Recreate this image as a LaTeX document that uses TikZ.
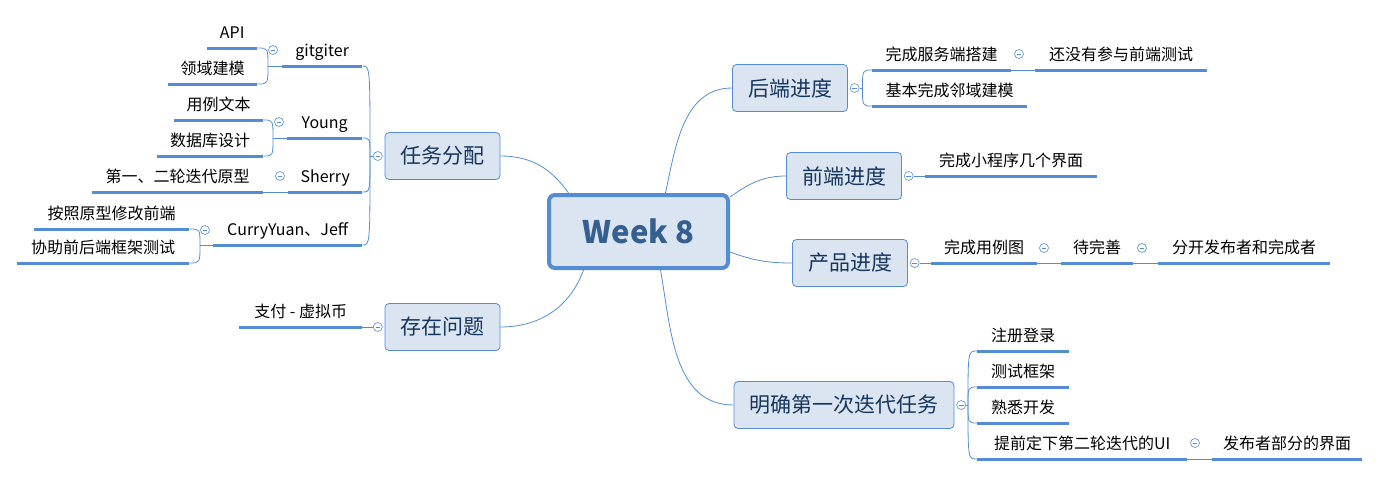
\documentclass[tikz,border=0pt]{standalone}
\usepackage{fontspec}
\setmainfont{Noto Sans CJK SC}
\usepackage{tikz}
\usetikzlibrary{positioning, backgrounds}

\definecolor{lineblue}{RGB}{84,141,212}
\definecolor{boxfill}{RGB}{219,229,241}
\definecolor{topictext}{RGB}{23,54,93}
\definecolor{weektext}{RGB}{54,95,145}

\newcommand{\leaffont}{\fontsize{16}{19}\selectfont}
\newcommand{\topicfont}{\fontsize{21}{25}\selectfont}
\newcommand{\weekfont}{\fontsize{31}{36}\selectfont\bfseries}

\tikzset{%
  % big box in the middle
  central/.style={rectangle, rounded corners=6pt, draw=lineblue, line width=4pt, fill=boxfill,
    text=weektext, font=\weekfont, minimum width=179pt, minimum height=73pt},
  % main topics
  topic/.style={rectangle, rounded corners=4pt, draw=lineblue, line width=0.8pt, fill=boxfill,
    text=topictext, font=\topicfont, inner xsep=15.5pt, minimum height=47pt},
  % underlined text, the south side is the underline
  leaf/.style={inner sep=0pt, text height=13pt, text depth=9pt, font=\leaffont},
  uline/.style={draw=lineblue, line width=3pt},
  branch/.style={draw=lineblue, line width=0.8pt},
  % bent line: leaves the fork upright, ends level
  fork/.style={branch, to path={.. controls (\tikztostart |- \tikztotarget) .. (\tikztotarget)}},
  % small circle with a minus
  fold/.style={circle, draw=lineblue, fill=white, line width=0.6pt, minimum size=9pt, inner sep=0pt,
    path picture={\draw[lineblue, line width=0.6pt]
      ([xshift=-2.3pt]path picture bounding box.center) -- ([xshift=2.3pt]path picture bounding box.center);}}
}

\begin{document}
\begin{tikzpicture}[x=1pt, y=-1pt]
  \useasboundingbox (0,0) rectangle (1382,477);

  \node[central] (week) at (638.5,231.5) {Week 8};

  \node[topic] (task) at (442.5,156) {任务分配};
  \node[topic] (issue) at (442.5,327) {存在问题};
  \node[topic] (back) at (790,88) {后端进度};
  \node[topic] (front) at (844,176) {前端进度};
  \node[topic] (prod) at (850,263) {产品进度};
  \node[topic] (iter) at (844,405) {明确第一次迭代任务};

  \node[fold, left=2pt of task] (taskfold) {};
  \node[fold, left=2pt of issue] (issuefold) {};
  \node[fold, right=2pt of back] (backfold) {};
  \node[fold, right=2pt of front] (frontfold) {};
  \node[fold, right=2pt of prod] (prodfold) {};
  \node[fold, right=2pt of iter] (iterfold) {};

  % left side
  \node[leaf, anchor=south west, minimum width=80pt] (gitgiter) at (282,66) {gitgiter};
  \node[leaf, anchor=south west, minimum width=50pt] (api) at (207,48) {API};
  \node[leaf, anchor=south west, minimum width=89pt] (lingyu) at (168,84) {领域建模};
  \node[leaf, anchor=south west, minimum width=75pt] (young) at (287,138) {Young};
  \node[leaf, anchor=south west, minimum width=89pt] (yongli) at (174,120) {用例文本};
  \node[leaf, anchor=south west, minimum width=106pt] (shujuku) at (157,156) {数据库设计};
  \node[leaf, anchor=south west, minimum width=74pt] (sherry) at (288,192) {Sherry};
  \node[leaf, anchor=south west, minimum width=171pt] (yuanxing) at (92,192) {第一、二轮迭代原型};
  \node[leaf, anchor=south west, minimum width=149pt] (curry) at (213,245) {CurryYuan、Jeff};
  \node[leaf, anchor=south west, minimum width=155pt] (xiugai) at (34,229) {按照原型修改前端};
  \node[leaf, anchor=south west, minimum width=172pt] (xiezhu) at (17,263) {协助前后端框架测试};
  \node[leaf, anchor=south west, minimum width=123pt] (zhifu) at (239,327) {支付 - 虚拟币};

  \node[fold] (gitfold) at (273,50) {};
  \node[fold] (youngfold) at (279,122) {};
  \node[fold] (sherryfold) at (280,176) {};
  \node[fold] (curryfold) at (205,230) {};

  % right side
  \node[leaf, anchor=south west, minimum width=139pt] (wancheng) at (872,70) {完成服务端搭建};
  \node[leaf, anchor=south west, minimum width=172pt] (meiyou) at (1035,70) {还没有参与前端测试};
  \node[leaf, anchor=south west, minimum width=155pt] (jiben) at (872,106) {基本完成邻域建模};
  \node[leaf, anchor=south west, minimum width=172pt] (xcx) at (925,176) {完成小程序几个界面};
  \node[leaf, anchor=south west, minimum width=106pt] (ylt) at (931,263) {完成用例图};
  \node[leaf, anchor=south west, minimum width=72pt] (dws) at (1061,263) {待完善};
  \node[leaf, anchor=south west, minimum width=172pt] (fenkai) at (1158,263) {分开发布者和完成者};
  \node[leaf, anchor=south west, minimum width=92pt] (zhuce) at (977,351) {注册登录};
  \node[leaf, anchor=south west, minimum width=92pt] (ceshi) at (977,387) {测试框架};
  \node[leaf, anchor=south west, minimum width=92pt] (shuxi) at (977,423) {熟悉开发};
  \node[leaf, anchor=south west, minimum width=210pt] (tiqian) at (977,459) {提前定下第二轮迭代的UI};
  \node[leaf, anchor=south west, minimum width=150pt] (fabu) at (1212,459) {发布者部分的界面};

  \node[fold] (wanchengfold) at (1019,54) {};
  \node[fold] (yltfold) at (1044,248) {};
  \node[fold] (dwsfold) at (1142,248) {};
  \node[fold] (tiqianfold) at (1195,443) {};

  \begin{scope}[on background layer]
    % centre to topics
    \draw[branch] ([xshift=-70pt]week.north) to[out=125, in=0] (task.east);
    \draw[branch] ([xshift=-55pt]week.south) to[out=-110, in=0] (issue.east);
    \draw[branch] ([xshift=27pt]week.north) to[out=78, in=180] (back.west);
    \draw[branch] ([yshift=-4pt]week.north east) to[out=35, in=180] (front.west);
    \draw[branch] ([yshift=18pt]week.south east) to[out=-20, in=180] (prod.west);
    \draw[branch] ([xshift=22pt]week.south) to[out=-80, in=180] (iter.west);

    % left forks
    \draw[branch] (taskfold.west) -- ++(-3pt,0) coordinate (taskfork);
    \foreach \n in {gitgiter, young, sherry, curry}
      \draw[fork] (taskfork) to (\n.south east);
    \draw[branch] (gitgiter.south west) -- ++(-14pt,0) coordinate (gitfork);
    \foreach \n in {api, lingyu}
      \draw[fork] (gitfork) to (\n.south east);
    \draw[branch] (young.south west) -- ++(-14pt,0) coordinate (youngfork);
    \foreach \n in {yongli, shujuku}
      \draw[fork] (youngfork) to (\n.south east);
    \draw[branch] (sherry.south west) -- (yuanxing.south east);
    \draw[branch] (curry.south west) -- ++(-13pt,0) coordinate (curryfork);
    \foreach \n in {xiugai, xiezhu}
      \draw[fork] (curryfork) to (\n.south east);
    \draw[branch] (issuefold.west) -- (zhifu.south east);

    % right forks
    \draw[branch] (backfold.east) -- ++(3pt,0) coordinate (backfork);
    \foreach \n in {wancheng, jiben}
      \draw[fork] (backfork) to (\n.south west);
    \draw[branch] (wancheng.south east) -- (meiyou.south west);
    \draw[branch] (frontfold.east) -- (xcx.south west);
    \draw[branch] (prodfold.east) -- (ylt.south west);
    \draw[branch] (ylt.south east) -- (dws.south west);
    \draw[branch] (dws.south east) -- (fenkai.south west);
    \draw[branch] (iterfold.east) -- ++(2pt,0) coordinate (iterfork);
    \foreach \n in {zhuce, ceshi, shuxi, tiqian}
      \draw[fork] (iterfork) to (\n.south west);
    \draw[branch] (tiqian.south east) -- (fabu.south west);
  \end{scope}

  % thick lines under the texts
  \foreach \n in {gitgiter, api, lingyu, young, yongli, shujuku, sherry, yuanxing, curry, xiugai, xiezhu, zhifu,
                  wancheng, meiyou, jiben, xcx, ylt, dws, fenkai, zhuce, ceshi, shuxi, tiqian, fabu}
    \draw[uline] (\n.south west) -- (\n.south east);
\end{tikzpicture}
\end{document}
